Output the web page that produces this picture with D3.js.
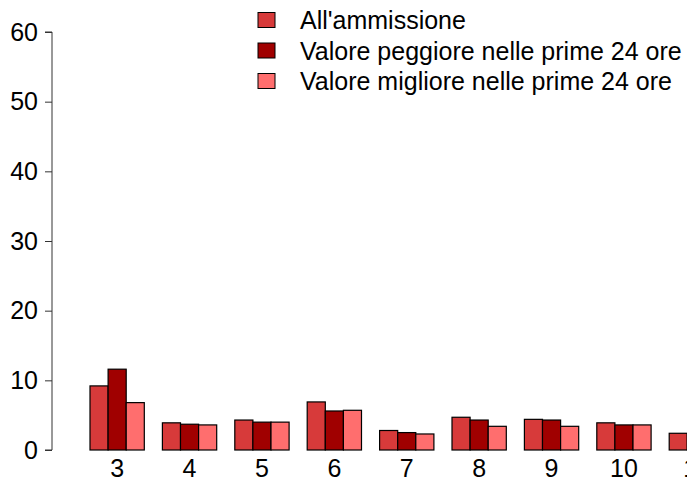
<!DOCTYPE html>
<html>
<head>
<meta charset="utf-8">
<script src="https://cdn.jsdelivr.net/npm/d3@7"></script>
<style>
  body { margin: 0; background: #fff; }
  svg { display: block; font-family: "Liberation Sans", Arial, sans-serif; }
</style>
</head>
<body>
<script>
// categories (score) and the three series
var categories = ["3", "4", "5", "6", "7", "8", "9", "10", "11"];
var seriesNames = ["All'ammissione", "Valore peggiore nelle prime 24 ore", "Valore migliore nelle prime 24 ore"];
var ammissione = [9.2, 3.9, 4.3, 6.9, 2.8, 4.7, 4.4, 3.9, 2.4];
var peggiore   = [11.6, 3.7, 4.0, 5.6, 2.5, 4.3, 4.3, 3.6, 2.2];
var migliore   = [6.8, 3.6, 4.0, 5.7, 2.3, 3.4, 3.4, 3.6, 2.0];
var yTicks = [0, 10, 20, 30, 40, 50, 60];
var colors = ["#d73a3a", "#a00000", "#ff6e6e"];

var W = 687, H = 482;
var FS = 25;
var svg = d3.select("body").append("svg")
    .attr("width", W)
    .attr("height", H);

var data = categories.map(function(c, i){
    return {cat: c, values: [ammissione[i], peggiore[i], migliore[i]]};
});

var yScale = d3.scaleLinear().domain([0, 60]).range([450, 32]);

// group pitch ~72.4px, bars touch inside a group, gap = one bar width
var x0 = d3.scaleBand().domain(categories).range([90, 90 + 72.4 * 8.75])
    .paddingInner(0.25).paddingOuter(0);
var x1 = d3.scaleBand().domain([0, 1, 2]).range([0, x0.bandwidth()]).padding(0);

var g = svg.append("g");

g.selectAll("g.grp")
  .data(data)
  .enter()
  .append("g")
  .attr("class", "grp")
  .attr("transform", function(d){ return "translate(" + x0(d.cat) + ",0)"; })
  .selectAll("rect")
  .data(function(d){ return d.values; })
  .enter()
  .append("rect")
  .attr("x", function(d, i){ return x1(i); })
  .attr("y", function(d){ return yScale(d); })
  .attr("width", x1.bandwidth())
  .attr("height", function(d){ return yScale(0) - yScale(d); })
  .attr("fill", function(d, i){ return colors[i]; })
  .attr("stroke", "#000")
  .attr("stroke-width", 1.2);

// y axis (R style)
var yAxis = svg.append("g")
  .attr("transform", "translate(52,0)")
  .call(d3.axisLeft(yScale).tickValues(yTicks).tickSize(7).tickPadding(7));
yAxis.select(".domain").attr("stroke", "#333").attr("d", "M-7," + yScale(60) + "H0V" + yScale(0) + "H-7");
yAxis.selectAll(".tick line").attr("stroke", "#333");
yAxis.selectAll("text").attr("font-size", FS).attr("fill", "#000")
  .attr("font-family", "Liberation Sans, Arial, sans-serif");

// category labels under groups
svg.selectAll("text.cat")
  .data(categories)
  .enter()
  .append("text")
  .attr("class", "cat")
  .attr("x", function(d){ return x0(d) + x0.bandwidth() / 2; })
  .attr("y", 477)
  .attr("text-anchor", "middle")
  .attr("font-size", FS)
  .text(function(d){ return d; });

// legend
var leg = svg.append("g");
seriesNames.forEach(function(name, i){
    var cy = 20 + i * 30.5;
    leg.append("rect")
      .attr("x", 258).attr("y", cy - 7.5)
      .attr("width", 17).attr("height", 15)
      .attr("fill", colors[i])
      .attr("stroke", "#000").attr("stroke-width", 1);
    leg.append("text")
      .attr("x", 300).attr("y", cy + 9)
      .attr("font-size", FS)
      .text(name);
});
</script>
</body>
</html>
